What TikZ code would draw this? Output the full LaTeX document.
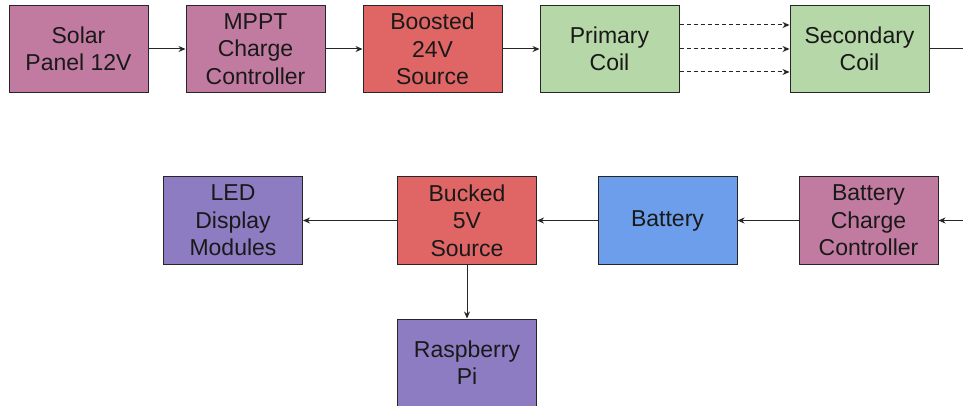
\documentclass[tikz,border=0pt]{standalone}
\usepackage{fontspec}
\setmainfont{Liberation Sans}
\usetikzlibrary{arrows.meta}
\definecolor{cpink}{HTML}{C27BA0}
\definecolor{cred}{HTML}{E06666}
\definecolor{cgreen}{HTML}{B6D7A8}
\definecolor{cblue}{HTML}{6D9EEB}
\definecolor{cpurple}{HTML}{8E7CC3}
\begin{document}
\begin{tikzpicture}[x=1pt,y=-1pt,
  blk/.style={draw=black!85,line width=1pt,minimum width=139pt,minimum height=87pt,inner sep=0pt,
    align=center,font=\fontsize{23}{27.5}\selectfont,text=black!90},
  conn/.style={draw=black!85,line width=1pt,-{Stealth[length=7pt,width=6pt]}},
  dconn/.style={conn,dash pattern=on 4pt off 3pt}]
\useasboundingbox (0,0) rectangle (963,406);
\node[blk,fill=cpink] (solar) at (78.5,49) {Solar\\Panel 12V};
\node[blk,fill=cpink] (mppt) at (255.5,49) {MPPT\\Charge\\Controller};
\node[blk,fill=cred] (boost) at (432.5,49) {Boosted\\24V\\Source};
\node[blk,fill=cgreen] (prim) at (609.5,49) {Primary\\Coil};
\node[blk,fill=cgreen] (sec) at (859.5,49) {Secondary\\Coil};
\node[blk,fill=cpink] (bcc) at (868.5,220.5) {Battery\\Charge\\Controller};
\node[blk,fill=cblue] (bat) at (667.5,220.5) {Battery};
\node[blk,fill=cred] (buck) at (467,220.5) {Bucked\\5V\\Source};
\node[blk,fill=cpurple] (led) at (233,220.5) {LED\\Display\\Modules};
\node[blk,fill=cpurple] (rpi) at (467,362.5) {Raspberry\\Pi};
\coordinate (outR) at (963,49);
\coordinate (inR) at (963,220.5);
\draw[conn] (solar) -- (mppt);
\draw[conn] (mppt) -- (boost);
\draw[conn] (boost) -- (prim);
\draw[dconn] (prim.east |- 0,25) -- (sec.west |- 0,25);
\draw[dconn] (prim) -- (sec);
\draw[dconn] (prim.east |- 0,72) -- (sec.west |- 0,72);
\draw[draw=black!85,line width=1pt] (sec) -- (outR);
\draw[conn] (inR) -- (bcc);
\draw[conn] (bcc) -- (bat);
\draw[conn] (bat) -- (buck);
\draw[conn] (buck) -- (led);
\draw[conn] (buck) -- (rpi);
\end{tikzpicture}
\end{document}
